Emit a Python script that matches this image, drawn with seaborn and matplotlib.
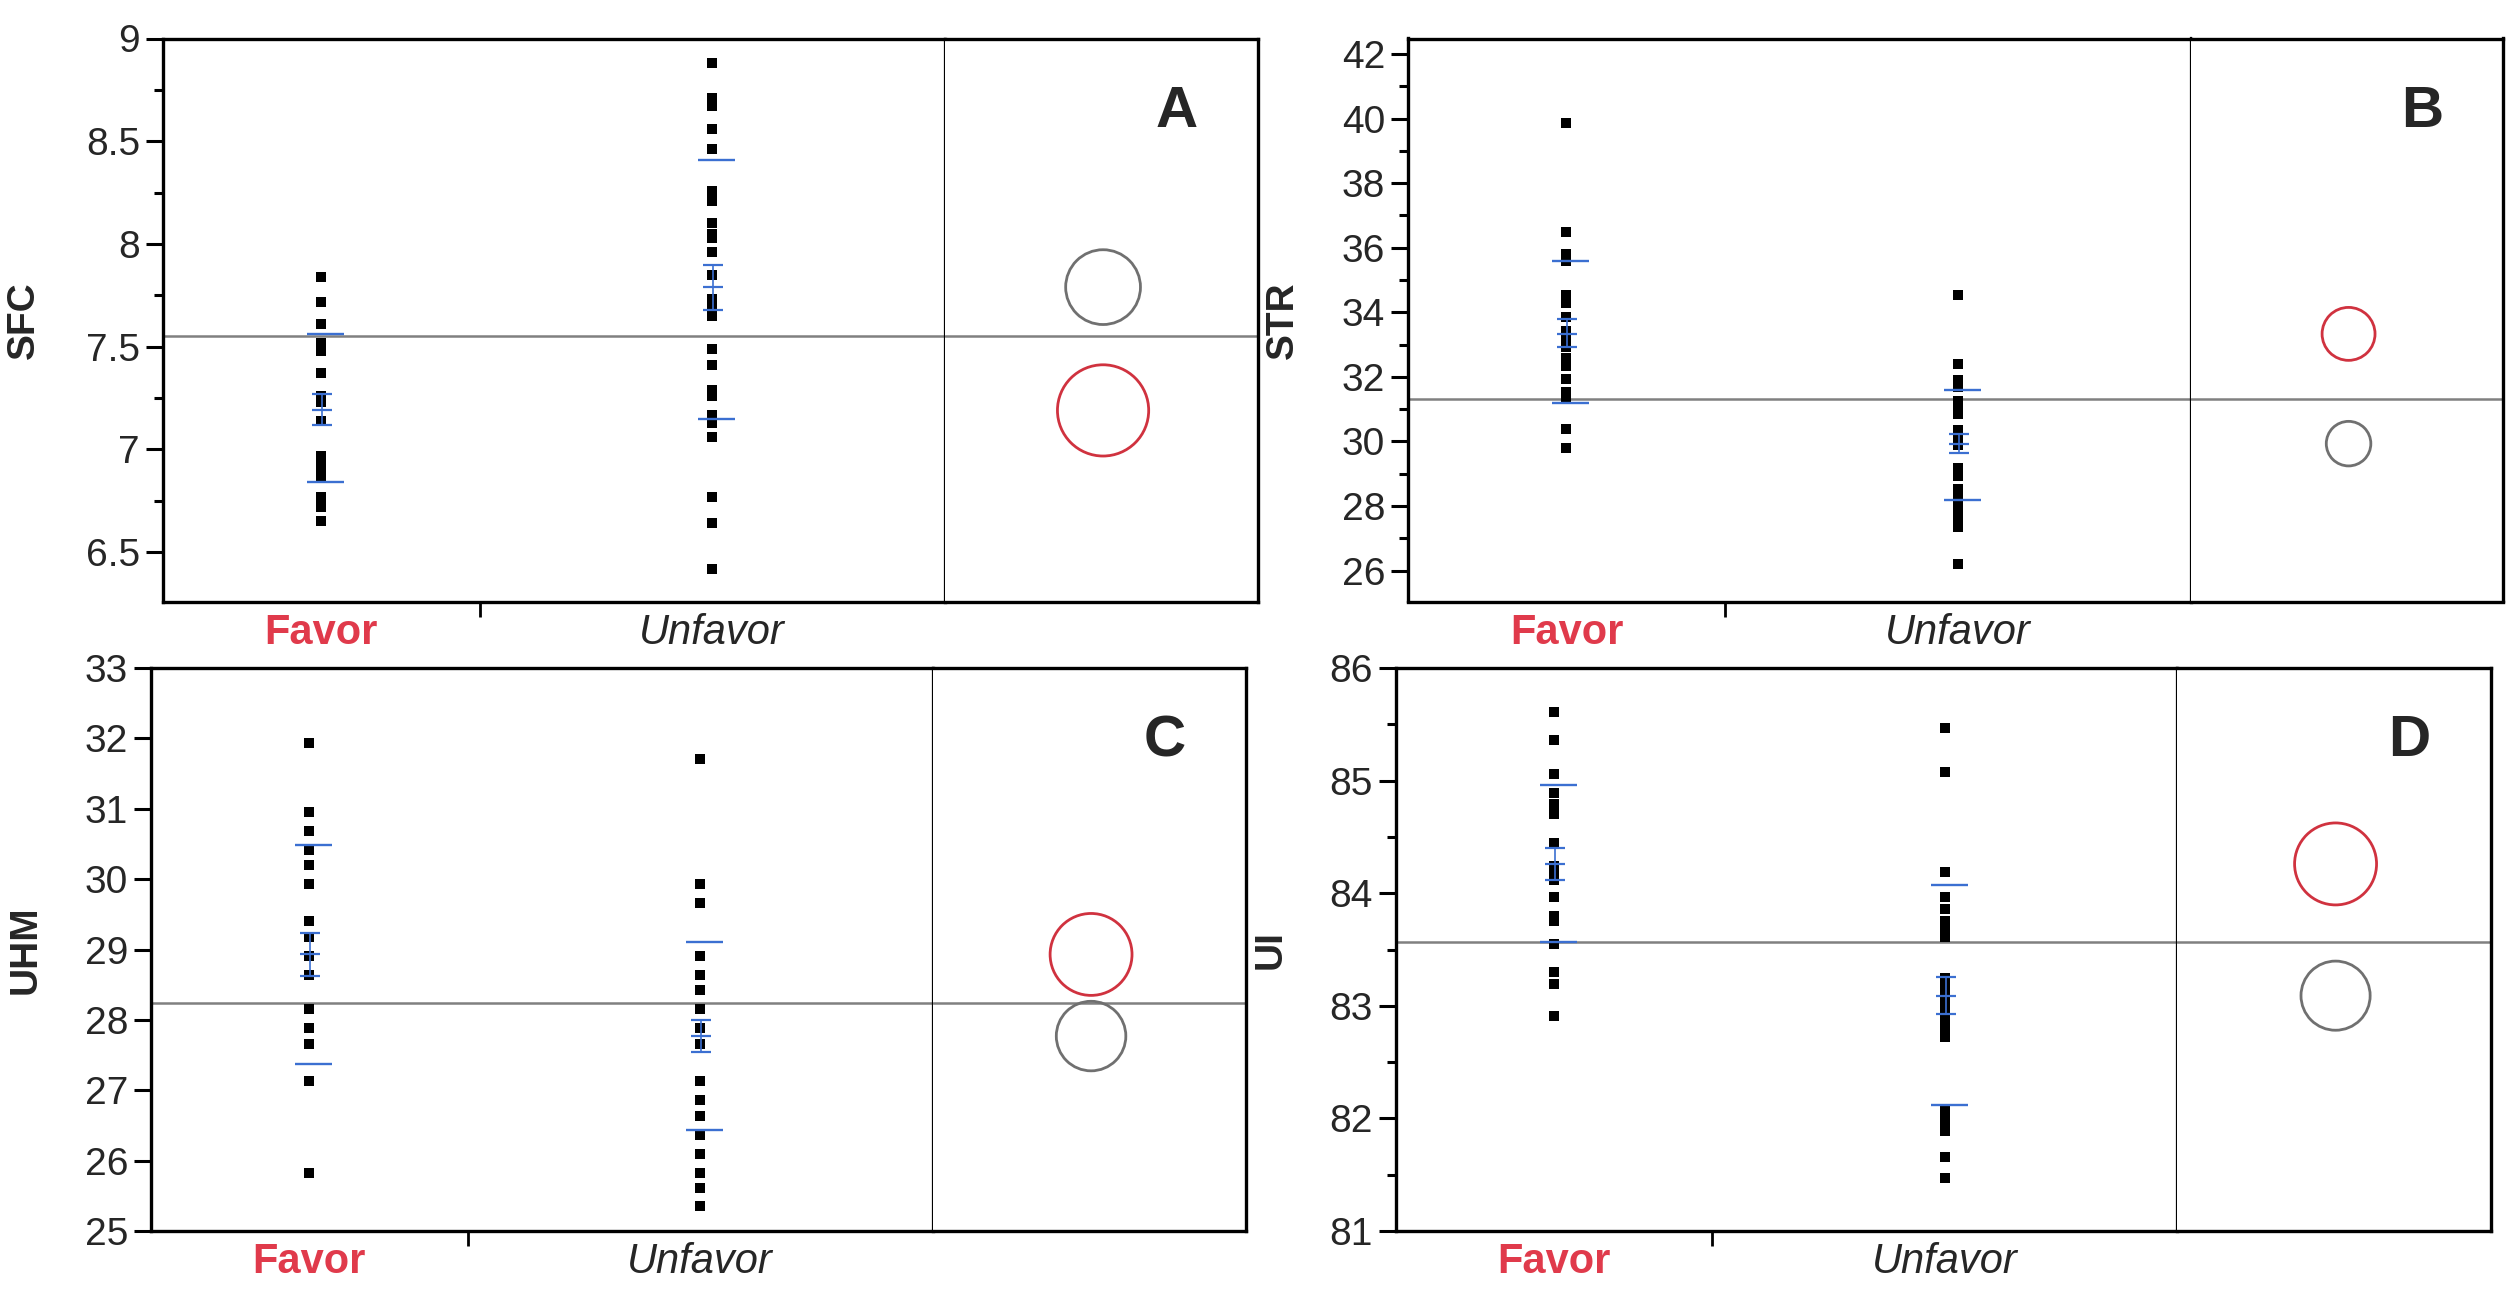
import matplotlib
matplotlib.use("Agg")
import matplotlib.pyplot as plt
import seaborn as sns
import pandas as pd
from matplotlib.patches import Circle
from matplotlib.ticker import MultipleLocator, FixedLocator, FuncFormatter

groups = ["Favor", "Unfavor"]

# SFC
sfc_favor = [7.84, 7.72, 7.61, 7.52, 7.48, 7.37, 7.26, 7.23, 7.14, 6.97, 6.93,
             6.91, 6.88, 6.86, 6.77, 6.72, 6.65]
sfc_unfavor = [8.88, 8.71, 8.67, 8.56, 8.46, 8.26, 8.21, 8.10, 8.05, 8.03, 7.96,
               7.85, 7.73, 7.69, 7.65, 7.49, 7.41, 7.29, 7.26, 7.17, 7.13, 7.06,
               6.77, 6.64, 6.42]
sfc_mean = [7.19, 7.79]
sfc_sd_lines = [(6.84, 7.56), (7.15, 8.41)]
sfc_se_lines = [(7.12, 7.27), (7.68, 7.90)]
sfc_grand = 7.551
sfc_radius = [0.222, 0.182]

# STR
str_favor = [39.85, 36.48, 35.81, 35.59, 34.53, 34.30, 33.86, 33.41, 33.13, 32.91,
             32.58, 32.33, 31.93, 31.52, 31.35, 30.37, 29.79]
str_unfavor = [34.53, 32.39, 31.89, 31.80, 31.69, 31.24, 31.15, 31.04, 30.95, 30.85,
               30.35, 30.25, 30.13, 29.90, 29.18, 29.05, 28.92, 28.51, 28.40, 28.29,
               28.07, 27.84, 27.62, 27.36, 26.21]
str_mean = [33.33, 29.93]
str_sd_lines = [(31.18, 35.60), (28.18, 31.58)]
str_se_lines = [(32.92, 33.79), (29.65, 30.22)]
str_grand = 31.30
str_radius = [0.82, 0.69]

# UHM
uhm_favor = [31.93, 30.96, 30.69, 30.42, 30.20, 29.93, 29.40, 29.18, 28.91, 28.64,
             28.16, 28.16, 27.88, 27.66, 27.66, 27.13, 25.83]
uhm_unfavor = [31.71, 29.93, 29.66, 28.91, 28.91, 28.64, 28.64, 28.42, 28.16, 28.16,
               27.88, 27.88, 27.88, 27.66, 27.66, 27.13, 27.13, 26.86, 26.86, 26.64,
               26.37, 26.10, 25.83, 25.61, 25.35]
uhm_mean = [28.93, 27.77]
uhm_sd_lines = [(27.37, 30.49), (26.43, 29.10)]
uhm_se_lines = [(28.62, 29.24), (27.55, 28.00)]
uhm_grand = 28.24
uhm_radius = [0.582, 0.494]

# UI
ui_favor = [85.61, 85.36, 85.06, 84.89, 84.79, 84.70, 84.45, 84.24, 84.18, 84.12,
            83.97, 83.80, 83.75, 83.55, 83.30, 83.19, 82.91]
ui_unfavor = [85.47, 85.08, 84.19, 83.97, 83.86, 83.75, 83.68, 83.61, 83.25, 83.18,
              83.11, 83.04, 82.98, 82.92, 82.85, 82.82, 82.79, 82.72, 82.08, 82.05,
              82.02, 81.95, 81.89, 81.66, 81.47]
ui_mean = [84.26, 83.09]
ui_sd_lines = [(83.57, 84.96), (82.12, 84.07)]
ui_se_lines = [(84.12, 84.40), (82.93, 83.26)]
ui_grand = 83.57
ui_radius = [0.364, 0.307]

sns.set_theme(style="white")
plt.rcParams["font.family"] = ["Liberation Sans", "DejaVu Sans"]
plt.rcParams["axes.edgecolor"] = "black"

BLUE = "#3b6fd1"
RED_TXT = "#e03a4b"
RED_CIRC = "#d0323f"
GREY_CIRC = "#707070"

W, H = 2517, 1309
fig = plt.figure(figsize=(W / 100, H / 100), dpi=100)
fig.patch.set_facecolor("white")


def px_axes(x0, x1, y0, y1):
    return fig.add_axes([x0 / W, 1 - y1 / H, (x1 - x0) / W, (y1 - y0) / H])


panels = [
    dict(name="SFC", tag="A", fav=sfc_favor, unf=sfc_unfavor, mean=sfc_mean,
         sd=sfc_sd_lines, se=sfc_se_lines, grand=sfc_grand, rad=sfc_radius,
         box=(163, 945, 1258, 38.5, 601.5), ylim=(6.26, 9.0), major=0.5, minor=0.25,
         ylab_x=24),
    dict(name="STR", tag="B", fav=str_favor, unf=str_unfavor, mean=str_mean,
         sd=str_sd_lines, se=str_se_lines, grand=str_grand, rad=str_radius,
         box=(1408, 2191, 2503, 38.5, 601.5), ylim=(25.04, 42.48), major=2, minor=1,
         ylab_x=1283),
    dict(name="UHM", tag="C", fav=uhm_favor, unf=uhm_unfavor, mean=uhm_mean,
         sd=uhm_sd_lines, se=uhm_se_lines, grand=uhm_grand, rad=uhm_radius,
         box=(151, 933, 1246, 668, 1231), ylim=(25, 33), major=1, minor=None,
         ylab_x=26),
    dict(name="UI", tag="D", fav=ui_favor, unf=ui_unfavor, mean=ui_mean,
         sd=ui_sd_lines, se=ui_se_lines, grand=ui_grand, rad=ui_radius,
         box=(1396, 2177, 2491, 668, 1231), ylim=(81, 86), major=1, minor=0.5,
         ylab_x=1271),
]

for p in panels:
    left, div, right, top, bottom = p["box"]
    ax = px_axes(left, div, top, bottom)
    axc = px_axes(div, right, top, bottom)
    wpx = div - left

    n_f, n_u = len(p["fav"]), len(p["unf"])
    split = n_f / (n_f + n_u)
    xpos = [split / 2, split + (1 - split) / 2]

    df = pd.DataFrame({
        "x": [xpos[0]] * n_f + [xpos[1]] * n_u,
        "y": p["fav"] + p["unf"],
    })
    ax.axhline(p["grand"], color="#808080", lw=1.8, zorder=1)
    sns.scatterplot(data=df, x="x", y="y", marker="s", s=44, color="black",
                    linewidth=0, ax=ax, legend=False, zorder=3)

    # mean, error bars and std dev lines
    for i in range(2):
        xc = xpos[i]
        lo, hi = p["sd"][i]
        ax.hlines([lo, hi], xc - 14 / wpx, xc + 23 / wpx, color=BLUE, lw=1.7, zorder=4)
        slo, shi = p["se"][i]
        ax.hlines([slo, p["mean"][i], shi], xc - 9 / wpx, xc + 11 / wpx,
                  color=BLUE, lw=1.6, zorder=4)
        ax.vlines(xc + 1 / wpx, slo, shi, color=BLUE, lw=1.2, zorder=4)

    ax.set_xlim(0, 1)
    ax.set_ylim(*p["ylim"])
    ax.set_xlabel("")
    ax.set_ylabel("")
    ax.yaxis.set_major_locator(MultipleLocator(p["major"]))
    if p["minor"]:
        ax.yaxis.set_minor_locator(MultipleLocator(p["minor"]))
    ax.yaxis.set_major_formatter(FuncFormatter(lambda v, pos: f"{v:g}"))
    ax.tick_params(axis="y", which="major", left=True, length=12.5, width=2.2,
                   labelsize=28, pad=4, color="black")
    ax.tick_params(axis="y", which="minor", left=True, length=6.5, width=2.2,
                   color="black")

    ax.set_xticks(xpos)
    ax.set_xticklabels(groups)
    ax.xaxis.set_minor_locator(FixedLocator([split]))
    ax.tick_params(axis="x", which="major", bottom=True, length=0, pad=8, labelsize=30)
    ax.tick_params(axis="x", which="minor", bottom=True, length=11, width=2,
                   color="black")
    lab_f, lab_u = ax.get_xticklabels()
    lab_f.set_color(RED_TXT)
    lab_f.set_fontweight("bold")
    lab_u.set_fontstyle("italic")

    for s in ["left", "top", "bottom"]:
        ax.spines[s].set_linewidth(2.4)
        ax.spines[s].set_color("black")
    ax.spines["right"].set_linewidth(1.6)
    ax.spines["right"].set_color("black")

    # comparison circles
    span = p["ylim"][1] - p["ylim"][0]
    xspan = (right - div) / (bottom - top) * span
    axc.set_xlim(0, xspan)
    axc.set_ylim(*p["ylim"])
    axc.axhline(p["grand"], color="#808080", lw=1.8, zorder=1)
    for i, col in enumerate([RED_CIRC, GREY_CIRC]):
        axc.add_patch(Circle((0.505 * xspan, p["mean"][i]), p["rad"][i], fill=False,
                             edgecolor=col, lw=2.0, zorder=3))
    axc.set_xticks([])
    axc.set_yticks([])
    axc.spines["left"].set_visible(False)
    for s in ["top", "right", "bottom"]:
        axc.spines[s].set_linewidth(2.4)
        axc.spines[s].set_color("black")
    axc.text(0.74, 0.87, p["tag"], transform=axc.transAxes, fontsize=42,
             fontweight="bold", ha="center", va="center")

    fig.text(p["ylab_x"] / W, 1 - (top + bottom) / 2 / H, p["name"], rotation=90,
             fontsize=28, fontweight="bold", ha="center", va="center")

fig.savefig("out.png", dpi=100, facecolor="white")
